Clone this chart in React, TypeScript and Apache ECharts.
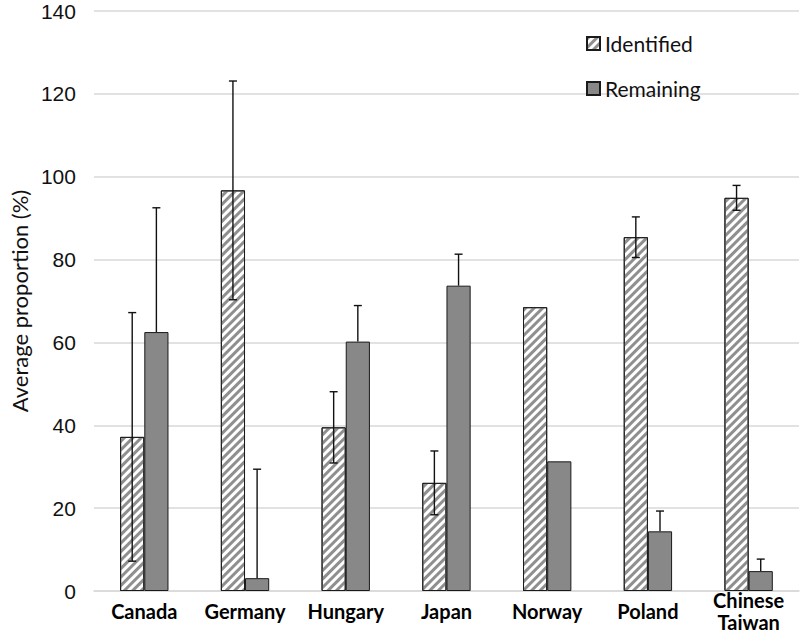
import React, { useEffect, useRef } from "react";
import * as echarts from "echarts";

const categories = ["Canada", "Germany", "Hungary", "Japan", "Norway", "Poland", "Chinese\nTaiwan"];
const identified = [37.2, 96.7, 39.5, 26.1, 68.5, 85.4, 94.9];
const identifiedErr = [30, 26.4, 8.6, 7.7, 0, 4.9, 3.0];
const remaining = [62.5, 3.1, 60.2, 73.7, 31.3, 14.4, 4.8];
const remainingErr = [30, 26.3, 8.7, 7.6, 0, 4.9, 2.9];
const yTicks = { min: 0, max: 140, interval: 20 };

const CAT_GAP = 0.52;

export default function App() {
  const ref = useRef<HTMLDivElement>(null);
  useEffect(() => {
    if (!ref.current) return;
    const chart = echarts.init(ref.current, undefined, { renderer: "svg" });

    const errData: number[][] = [];
    identified.forEach((v, i) => {
      if (identifiedErr[i] > 0) errData.push([i, v - identifiedErr[i], v + identifiedErr[i], -1, 1]);
    });
    remaining.forEach((v, i) => {
      if (remainingErr[i] > 0) errData.push([i, v, v + remainingErr[i], 1, 0]);
    });

    const stripe = {
      symbol: "rect",
      symbolSize: 1,
      dashArrayX: [1, 0],
      dashArrayY: [3, 3],
      rotation: -Math.PI / 4,
      color: "#8f8f8f",
    };

    chart.setOption({
      animation: false,
      backgroundColor: "#ffffff",
      grid: { left: 85, right: 1, top: 11, bottom: 48, containLabel: false },
      legend: {
        orient: "vertical",
        left: 581,
        top: 28,
        icon: "rect",
        itemWidth: 13,
        itemHeight: 13,
        itemGap: 24,
        textStyle: { fontFamily: "Lato", fontSize: 21, color: "#111" },
        data: ["Identified", "Remaining"],
      },
      xAxis: {
        type: "category",
        data: categories,
        axisLine: { lineStyle: { color: "#d9d9d9", width: 1.5 } },
        axisTick: { show: false },
        axisLabel: {
          fontFamily: "Lato",
          fontWeight: "bold",
          fontSize: 20,
          color: "#000",
          margin: 20,
          verticalAlign: "middle",
          lineHeight: 22,
          interval: 0,
        },
      },
      yAxis: {
        type: "value",
        min: yTicks.min,
        max: yTicks.max,
        interval: yTicks.interval,
        name: "Average proportion (%)",
        nameLocation: "middle",
        nameGap: 60,
        nameTextStyle: { fontFamily: "Lato", fontSize: 22, color: "#111" },
        axisLine: { show: false },
        axisTick: { show: false },
        axisLabel: { fontFamily: "Liberation Sans", fontSize: 21, color: "#111", margin: 18 },
        splitLine: { lineStyle: { color: "#d9d9d9", width: 1.5 } },
      },
      series: [
        {
          name: "Identified",
          type: "bar",
          data: identified,
          barGap: "0%",
          barCategoryGap: CAT_GAP * 100 + "%",
          itemStyle: { color: "#ffffff", borderColor: "#1a1a1a", borderWidth: 1, decal: stripe },
        },
        {
          name: "Remaining",
          type: "bar",
          data: remaining,
          barGap: "0%",
          barCategoryGap: CAT_GAP * 100 + "%",
          itemStyle: { color: "#888888", borderColor: "#1a1a1a", borderWidth: 1 },
        },
        {
          name: "err",
          type: "custom",
          silent: true,
          z: 10,
          encode: { x: 0, y: [1, 2] },
          data: errData,
          renderItem: (params: any, api: any) => {
            const xi = api.value(0);
            const lo = api.value(1);
            const hi = api.value(2);
            const side = api.value(3);
            const capLow = api.value(4);
            const band = api.size([1, 0])[0];
            const bw = (band * (1 - CAT_GAP)) / 2;
            const x = api.coord([xi, 0])[0] + (side * bw) / 2;
            const yLo = api.coord([xi, lo])[1];
            const yHi = api.coord([xi, hi])[1];
            const cap = 4;
            const style = { stroke: "#111", lineWidth: 1.4 };
            const children: any[] = [
              { type: "line", shape: { x1: x, y1: yLo, x2: x, y2: yHi }, style },
              { type: "line", shape: { x1: x - cap, y1: yHi, x2: x + cap, y2: yHi }, style },
            ];
            if (capLow) {
              children.push({ type: "line", shape: { x1: x - cap, y1: yLo, x2: x + cap, y2: yLo }, style });
            }
            return { type: "group", children };
          },
        },
      ],
    });
    return () => chart.dispose();
  }, []);
  return <div ref={ref} style={{ position: "fixed", left: 0, top: 0, width: 800, height: 639 }} />;
}
